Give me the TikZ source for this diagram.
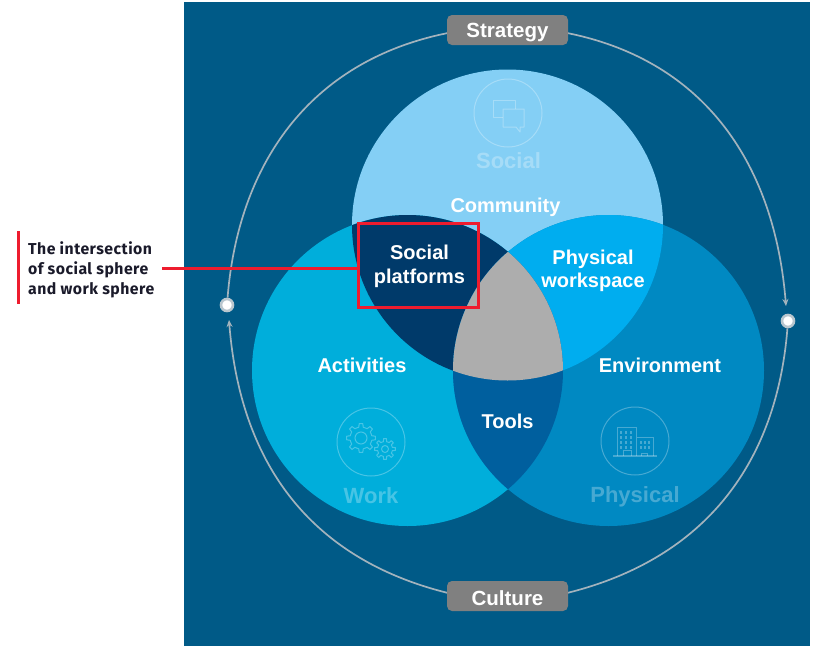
\documentclass[tikz,border=0pt]{standalone}
\usepackage{fontspec}
\setmainfont{Liberation Sans}
\newfontfamily\callfont[LetterSpace=3]{Fira Sans}
\definecolor{bgblue}{HTML}{005A87}
\definecolor{topc}{HTML}{84CFF5}
\definecolor{leftc}{HTML}{00AEDB}
\definecolor{rightc}{HTML}{0089C2}
\definecolor{slc}{HTML}{003A6A}
\definecolor{src}{HTML}{00ADEF}
\definecolor{lrc}{HTML}{005F9E}
\definecolor{midc}{HTML}{ADADAD}
\definecolor{redc}{HTML}{EE1C2E}
\definecolor{pill}{HTML}{808080}
\definecolor{ringc}{HTML}{A3B3BD}
\definecolor{haloc}{HTML}{B9C6CE}
\definecolor{inkc}{HTML}{1A1A2A}
\newcommand{\fs}[1]{\fontsize{#1}{#1}\selectfont}
\usetikzlibrary{arrows.meta}
\tikzset{
  lab/.style={text=white,font=\fs{20}\bfseries,align=center,inner sep=0pt,text depth=0pt},
  ghost/.style={lab,text opacity=.28,font=\fs{22}\bfseries},
  iconline/.style={draw=white,draw opacity=.28,line width=1pt,fill=none},
  pillbox/.style={fill=pill,rounded corners=5pt,minimum width=121pt,minimum height=30pt,inner sep=0pt,text=white,font=\fs{20.5}\bfseries,text depth=0pt},
  ring/.style={draw=ringc,line width=1.7pt},
  ringarrow/.style={ring,-{Stealth[length=7pt,width=6pt]}},
  dot/.style={circle,fill=white,draw=haloc,line width=2.6pt,minimum size=12pt,inner sep=0pt},
  redline/.style={draw=redc,line width=3pt},
}
\begin{document}
\begin{tikzpicture}[x=1pt,y=-1pt]
\useasboundingbox (0,0) rectangle (815,651);
\fill[white] (0,0) rectangle (815,651);
\fill[bgblue] (184,2) rectangle (810,646);
% Outer ring
\node[dot] (dotL) at (227,305) {};
\node[dot] (dotR) at (788,321) {};
\coordinate (aTL) at (448,33);
\coordinate (aTR) at (567,33);
\coordinate (aBL) at (448,593);
\coordinate (aBR) at (567,593);
\coordinate (tipL) at (229,320);
\coordinate (tipR) at (786,306);
\draw[ring] (aTL) .. controls (308,61) and (238,166) .. (dotL);
\draw[ringarrow] (aTR) .. controls (707,61) and (775,167) .. (tipR);
\draw[ringarrow] (aBL) .. controls (307,558) and (240,460) .. (tipL);
\draw[ring] (aBR) .. controls (708,558) and (777,460) .. (dotR);
\node[pillbox,text height=14pt] (strategy) at (507.5,30) {Strategy};
\node[pillbox,text height=18pt] (culture) at (507.5,596) {Culture};
% Venn
\def\ctop{(507.5,225) circle[radius=155.5]}
\def\cleft{(407.5,370.5) circle[radius=155.5]}
\def\cright{(608.5,370.5) circle[radius=155.5]}
\fill[topc] \ctop;
\fill[leftc] \cleft;
\fill[rightc] \cright;
\begin{scope}\clip \ctop; \fill[slc] \cleft; \fill[src] \cright; \end{scope}
\begin{scope}\clip \cleft; \fill[lrc] \cright; \end{scope}
\begin{scope}\clip \ctop; \clip \cleft; \fill[midc] \cright; \end{scope}
% Labels
\node[lab] (community) at (505.5,205) {Community};
\node[lab] (splat) at (419.5,264) {Social\\[4pt]platforms};
\node[lab] (pw) at (593,268.5) {Physical\\[3.5pt]workspace};
\node[lab] (activities) at (362,365) {Activities};
\node[lab] (environment) at (660,365) {Environment};
\node[lab] (tools) at (507.5,421.5) {Tools};
\node[ghost] (social) at (508.5,161) {Social};
\node[ghost] (work) at (371,496) {Work};
\node[ghost] (physical) at (635,495) {Physical};
% Icon: social
\node[circle,iconline,minimum size=68pt,inner sep=0pt] (icS) at (508,113) {};
\draw[iconline,line join=round] (503,117) -- (493,117) -- (493,100) -- (515,100) -- (515,109);
\draw[iconline,line join=round] (516,127) -- (503,127) -- (503,109) -- (524,109) -- (524,127) -- (520,127) -- (520,132) -- cycle;
% Icon: work
\node[circle,iconline,minimum size=68pt,inner sep=0pt] (icW) at (371,442) {};
\begin{scope}[shift={(361,438)}]
\draw[iconline,line join=round] (-22.5:11) \foreach \a in {0,45,...,315}{ -- ({\a-12}:11) -- ({\a-7}:14.5) -- ({\a+7}:14.5) -- ({\a+12}:11) -- ({\a+22.5}:11)} -- cycle;
\draw[iconline] (0,0) circle[radius=6];
\end{scope}
\begin{scope}[shift={(385,449)}]
\draw[iconline,line join=round] (-22.5:7.5) \foreach \a in {0,45,...,315}{ -- ({\a-12}:7.5) -- ({\a-8}:10.5) -- ({\a+8}:10.5) -- ({\a+12}:7.5) -- ({\a+22.5}:7.5)} -- cycle;
\draw[iconline] (0,0) circle[radius=3.5];
\end{scope}
% Icon: physical
\node[circle,iconline,minimum size=68pt,inner sep=0pt] (icP) at (635,441) {};
\draw[iconline] (617,456) -- (617,427) -- (636,427) -- (636,456);
\draw[iconline] (637,437) -- (653,437) -- (653,456);
\draw[iconline,line width=1.3pt] (613,456) -- (657,456);
\draw[iconline] (623,456) -- (623,450) -- (631,450) -- (631,456);
\draw[iconline] (641,456) -- (641,453) -- (647,453) -- (647,456);
\foreach \y in {430.5,435.5,440.5,445.5}{
  \foreach \x in {621,626,631}{\fill[white,opacity=.28] (\x-.8,\y) rectangle (\x+.8,\y+3);}}
\foreach \y in {441,446}{
  \foreach \x in {641,645,649}{\fill[white,opacity=.28] (\x-.7,\y) rectangle (\x+.7,\y+3);}}
% Callout
\draw[redline] (18,231) -- (18,304);
\node[draw=redc,line width=3pt,fill=none,minimum width=120pt,minimum height=84pt,inner sep=0pt,outer sep=0pt] (hl) at (418,265) {};
\coordinate (callstart) at (162,268);
\draw[redline] (callstart) -- (hl.west |- callstart);
\node[anchor=west,inner sep=0pt,text=inkc,align=left,font=\fs{15.8}\callfont\bfseries] (note) at (28,270) {The intersection\\[4.2pt]of social sphere\\[4.2pt]and work sphere};
\end{tikzpicture}
\end{document}
